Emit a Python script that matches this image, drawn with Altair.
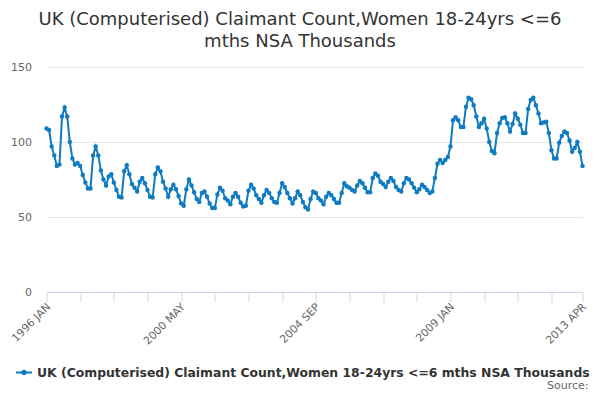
import altair as alt
import pandas as pd

# --- DATA ---
# monthly values, 1996 JAN .. 2013 APR (thousands)
values_1996 = [109, 108, 97, 91, 84, 85, 117, 123, 117, 100, 89, 85]
values_1997 = [86, 84, 78, 73, 69, 69, 91, 97, 91, 81, 75, 71]
values_1998 = [77, 78.5, 73, 68, 63.5, 63, 80.5, 84.5, 78.5, 72, 69.5, 67]
values_1999 = [73.5, 76, 72.5, 68, 63.5, 63, 78.5, 83, 80.5, 73.5, 69, 63.5]
values_2000 = [68.5, 71.5, 68.5, 64, 59, 57.5, 68.5, 75, 71, 66.5, 62, 60]
values_2001 = [66, 67, 63.5, 59, 56, 56, 65, 69.5, 67.5, 62.5, 61, 58.5]
values_2002 = [63.5, 66, 63.5, 59.5, 57, 57.5, 67.5, 71.5, 69, 64.5, 62, 59.5]
values_2003 = [64.5, 68, 66, 62.5, 60, 59.5, 66, 72.5, 70, 66, 62.5, 59]
values_2004 = [62.5, 67, 64.5, 60, 56.5, 55, 62, 67, 66, 62.5, 61, 58.5]
values_2005 = [63.5, 66, 64.5, 62, 59.5, 59.5, 66, 72.5, 70.5, 69.5, 68, 67]
values_2006 = [71, 74, 72.5, 69.5, 66.5, 66.5, 76, 79, 77.5, 73.5, 72, 70]
values_2007 = [73.5, 76, 74, 70, 68, 67, 72.5, 76, 75, 72.5, 69.5, 66.5]
values_2008 = [68.5, 71.5, 70, 68, 66, 67, 76, 85.5, 88, 86, 88, 90]
values_2009 = [97, 114.5, 116.5, 114.5, 110, 110, 123.5, 129.5, 128.5, 124.5, 117, 110]
values_2010 = [112.5, 115.5, 109, 100, 94, 92.5, 106, 112.5, 116, 116.5, 112.5, 107]
values_2011 = [112, 119, 115.5, 111.5, 106, 106, 122, 128, 129.5, 124.5, 119, 112.5]
values_2012 = [113, 113.5, 106, 94.5, 89, 89, 99.5, 104, 107, 106, 101, 93.5]
values_2013 = [96, 100, 93.5, 84]

years = list(range(1996, 2014))
month_names = ['JAN', 'FEB', 'MAR', 'APR', 'MAY', 'JUN',
               'JUL', 'AUG', 'SEP', 'OCT', 'NOV', 'DEC']

series_name = 'UK (Computerised) Claimant Count,Women 18-24yrs <=6 mths NSA Thousands'
title_lines = ['UK (Computerised) Claimant Count,Women 18-24yrs <=6', 'mths NSA Thousands']

# axis ticks every 13 months, plus the last month; only some of them labelled
tick_idx = list(range(0, 196, 13)) + [207]
label_idx = [0, 52, 104, 156, 207]

all_values = (values_1996 + values_1997 + values_1998 + values_1999 + values_2000
              + values_2001 + values_2002 + values_2003 + values_2004 + values_2005
              + values_2006 + values_2007 + values_2008 + values_2009 + values_2010
              + values_2011 + values_2012 + values_2013)

periods = [f'{y} {m}' for y in years for m in month_names][:len(all_values)]

df = pd.DataFrame({
    'idx': list(range(len(all_values))),
    'period': periods,
    'value': all_values,
    'series': series_name,
})

# labelExpr lookup for the labelled ticks
label_map = {i: periods[i] for i in label_idx}
label_expr = ' : '.join(f"datum.value == {i} ? '{t}'" for i, t in label_map.items()) + " : ''"

FONT = 'DejaVu Sans'
BLUE = '#0f7bc1'

# legend symbol: short line with a dot in the middle (no overlapping sub-paths)
legend_symbol = ('M-1,-0.13 L-0.3,-0.13 L-0.3,0.13 L-1,0.13 Z '
                 'M0.3,-0.13 L1,-0.13 L1,0.13 L0.3,0.13 Z '
                 'M-0.34,0 A0.34,0.34 0 1,1 0.34,0 A0.34,0.34 0 1,1 -0.34,0 Z')

line = alt.Chart(df).mark_line(
    strokeWidth=2,
    point=alt.OverlayMarkDef(filled=True, size=20, color=BLUE)
).encode(
    x=alt.X(
        'idx:Q',
        title=None,
        scale=alt.Scale(domain=[0, 207], nice=False, zero=False),
        axis=alt.Axis(
            values=tick_idx,
            labelExpr=label_expr,
            labelAngle=-45,
            labelAlign='right',
            labelBaseline='middle',
            labelFont=FONT,
            labelFontSize=10.8,
            labelColor='#666666',
            labelPadding=3,
            labelOffset=2,
            labelOverlap=False,
            labelBound=False,
            labelFlush=False,
            domainColor='#ccd6eb',
            tickColor='#ccd6eb',
            tickSize=10,
            grid=False
        )
    ),
    y=alt.Y(
        'value:Q',
        title=None,
        scale=alt.Scale(domain=[0, 150], nice=False),
        axis=alt.Axis(
            values=[0, 50, 100, 150],
            labelFont=FONT,
            labelFontSize=11,
            labelColor='#666666',
            labelPadding=15,
            domain=False,
            ticks=False,
            gridColor='#e6e6e6'
        )
    ),
    color=alt.Color(
        'series:N',
        scale=alt.Scale(range=[BLUE]),
        legend=alt.Legend(
            title=None,
            orient='none',
            legendX=-30.5,
            legendY=297.5,
            symbolType=legend_symbol,
            symbolSize=256,
            symbolStrokeWidth=0,
            symbolFillColor=BLUE,
            labelFont=FONT,
            labelFontSize=12.4,
            labelFontWeight='bold',
            labelColor='#333333',
            labelOffset=5,
            labelLimit=700,
            padding=0
        )
    ),
    tooltip=[
        alt.Tooltip('period:N', title='Period'),
        alt.Tooltip('value:Q', title='Thousands')
    ]
)

source = alt.Chart(pd.DataFrame({'t': ['Source:']})).mark_text(
    align='right', baseline='middle', font=FONT, fontSize=11, color='#666666'
).encode(
    x=alt.value(542),
    y=alt.value(318.5),
    text='t:N'
)

chart = alt.layer(line, source).properties(
    width=536,
    height=225,
    autosize=alt.AutoSizeParams(type='none'),
    padding={'left': 38.5, 'top': 59, 'right': 9.5, 'bottom': 100},
    title=alt.TitleParams(
        text=title_lines,
        font=FONT,
        fontSize=18,
        fontWeight='normal',
        color='#333333',
        lineHeight=22,
        anchor='middle',
        dx=-14.5,
        offset=10
    )
).configure_view(stroke=None)

chart.save('out.html', embed_options={'renderer': 'svg', 'actions': False})
